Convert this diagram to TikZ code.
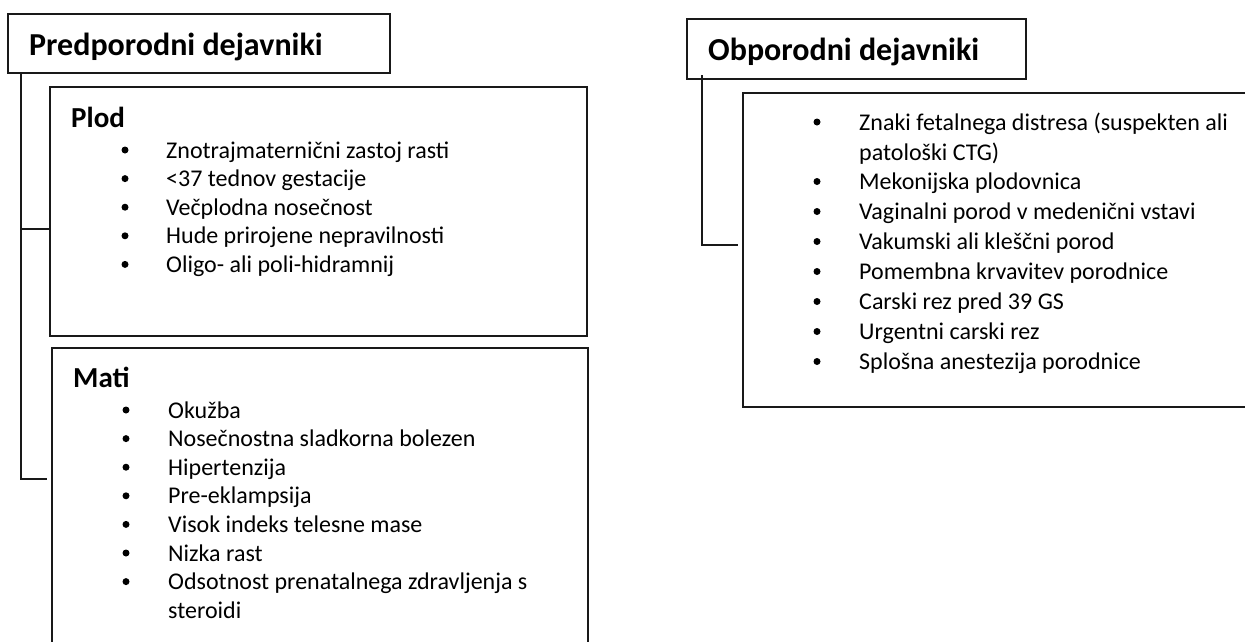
\documentclass[tikz,border=0pt]{standalone}
\usepackage{fontspec}
\setmainfont{Carlito}
\begin{document}
\begin{tikzpicture}[x=1pt,y=-1pt,
  box/.style={draw=black!90,line width=1.9pt,rectangle,inner sep=0pt,outer sep=0pt,anchor=north west},
  link/.style={draw=black!90,line width=1.5pt},
  titletxt/.style={inner sep=0pt,anchor=base west,font=\fontsize{32}{38}\selectfont\bfseries},
  headtxt/.style={inner sep=0pt,anchor=base west,font=\fontsize{29}{34}\selectfont\bfseries},
  ltxt/.style={inner sep=0pt,anchor=base west,font=\fontsize{24}{28}\selectfont},
  rtxt/.style={inner sep=0pt,anchor=base west,font=\fontsize{24}{28}\selectfont},
  dot/.style={circle,fill=black,inner sep=0pt,minimum size=7pt}]
\useasboundingbox (0,0) rectangle (1245,641);
\clip (0,0) rectangle (1245,641);
% boxes
\node[box,minimum width=382pt,minimum height=59pt] (pre) at (8,14) {};
\node[box,minimum width=537pt,minimum height=249pt] (plod) at (50,87) {};
\node[box,minimum width=536pt,minimum height=310pt] (mati) at (52,348) {};
\node[box,minimum width=339pt,minimum height=60pt] (obp) at (687,19) {};
\node[box,minimum width=540pt,minimum height=314pt] (list) at (743,93) {};
% titles
\node[titletxt] (preT) at (29,55) {Predporodni dejavniki};
\node[titletxt] (obpT) at (708,60) {Obporodni dejavniki};
\node[headtxt] (plodT) at (71,127) {Plod};
\node[headtxt] (matiT) at (73,387) {Mati};
% Plod items
\foreach \t [count=\i] in {Znotrajmaternični zastoj rasti,{<37 tednov gestacije},Večplodna nosečnost,Hude prirojene nepravilnosti,Oligo- ali poli-hidramnij}{
  \node[ltxt] (plod\i) at (166,{158+28.6*(\i-1)}) {\t};
  \node[dot] (plodb\i) at (125,{150+28.6*(\i-1)}) {};
}
% Mati items
\foreach \t [count=\i] in {Okužba,Nosečnostna sladkorna bolezen,Hipertenzija,Pre-eklampsija,Visok indeks telesne mase,Nizka rast,Odsotnost prenatalnega zdravljenja s}{
  \node[ltxt] (mati\i) at (168,{418+28.6*(\i-1)}) {\t};
  \node[dot] (matib\i) at (126,{410+28.6*(\i-1)}) {};
}
\node[ltxt] (mati8) at (168,618) {steroidi};
% right items
\node[rtxt] (r1a) at (859,130) {Znaki fetalnega distresa (suspekten ali};
\node[dot] (rb1) at (817,122) {};
\node[rtxt] (r1b) at (859,160) {patološki CTG)};
\foreach \t [count=\i] in {Mekonijska plodovnica,Vaginalni porod v medenični vstavi,Vakumski ali kleščni porod,Pomembna krvavitev porodnice,Carski rez pred 39 GS,Urgentni carski rez,Splošna anestezija porodnice}{
  \node[rtxt] (r\i) at (859,{189.5+30*(\i-1)}) {\t};
  \node[dot] (rbx\i) at (817,{181.5+30*(\i-1)}) {};
}
% connectors
\coordinate (c1) at (21,73);
\coordinate (c2) at (21,229);
\coordinate (c3) at (21,479);
\coordinate (c4) at (47,479);
\draw[link] (c1) -- (c3) -- (c4);
\draw[link] (c2) -- (c2 -| plod.west);
\coordinate (d1) at (702,75);
\coordinate (d2) at (702,245);
\coordinate (d3) at (738,245);
\draw[link] (d1) -- (d2) -- (d3);
\end{tikzpicture}
\end{document}
